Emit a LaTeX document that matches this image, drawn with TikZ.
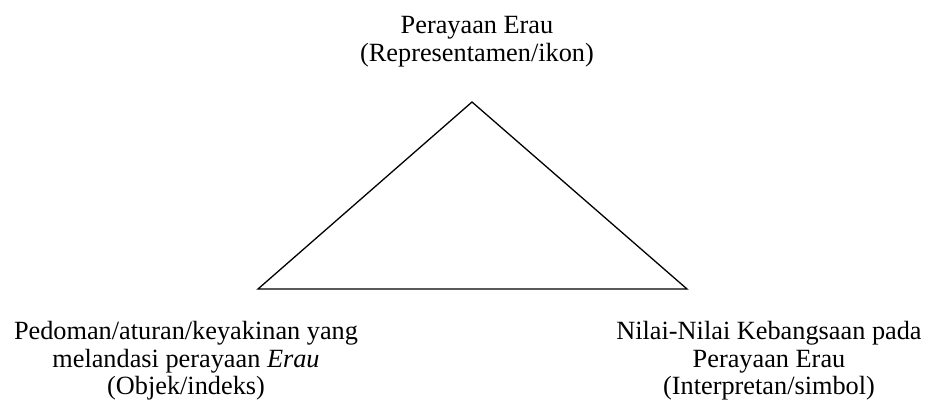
\documentclass[tikz,border=0pt]{standalone}
\usepackage{fontspec}
\setmainfont{Liberation Serif}
\usetikzlibrary{positioning, calc}

\begin{document}
\begin{tikzpicture}[x=1pt,y=-1pt]
\tikzset{
  lbl/.style={align=center,inner sep=0pt,anchor=north,font=\fontsize{26.3}{27.6}\selectfont},
  edge/.style={draw=black,line width=1.3pt,line join=miter}
}
\useasboundingbox (0,0) rectangle (928,401);
% corners of the triangle
\coordinate (top) at (472,102);
\coordinate (lft) at (258,289);
\coordinate (rgt) at (687,289);
\draw[edge] (top) -- (lft) -- (rgt) -- cycle;
% labels
\node[lbl] (rep) at (477,16) {Perayaan Erau\\(Representamen/ikon)};
\node[lbl] (obj) at (186,321) {Pedoman/aturan/keyakinan yang\\melandasi perayaan \emph{Erau}\\(Objek/indeks)};
\node[lbl] (intp) at (769,321) {Nilai-Nilai Kebangsaan pada\\Perayaan Erau\\(Interpretan/simbol)};
\end{tikzpicture}
\end{document}
